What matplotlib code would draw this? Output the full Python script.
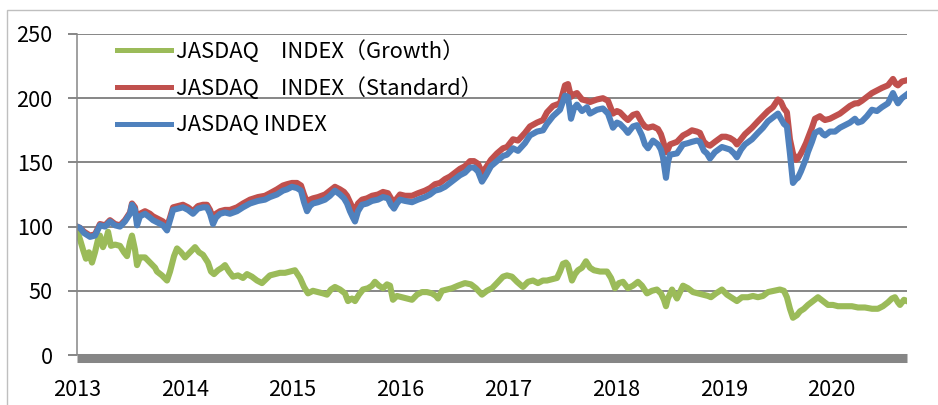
import matplotlib.pyplot as plt
from matplotlib.patches import Rectangle

plt.rcParams['font.family'] = ['Noto Sans CJK JP', 'DejaVu Sans']

# x values are decimal years (year labels sit on Jan 1)
years = [2013, 2014, 2015, 2016, 2017, 2018, 2019, 2020]
y_ticks = [0, 50, 100, 150, 200, 250]

label_growth = 'JASDAQ\u3000INDEX（Growth）'
label_standard = 'JASDAQ\u3000INDEX（Standard）'
label_index = 'JASDAQ INDEX'

# shared dates for JASDAQ INDEX and Standard
index_t = [
    2013.000, 2013.028, 2013.065, 2013.121, 2013.167, 2013.213, 2013.260, 2013.306, 2013.353, 2013.399,
    2013.445, 2013.492, 2013.510, 2013.538, 2013.557, 2013.584, 2013.631, 2013.677, 2013.705, 2013.751,
    2013.798, 2013.835, 2013.863, 2013.891, 2013.937, 2013.983, 2014.030, 2014.076, 2014.122, 2014.169,
    2014.206, 2014.234, 2014.262, 2014.289, 2014.327, 2014.373, 2014.419, 2014.484, 2014.540, 2014.605,
    2014.679, 2014.744, 2014.790, 2014.855, 2014.911, 2014.948, 2014.994, 2015.041, 2015.078, 2015.106,
    2015.134, 2015.161, 2015.189, 2015.236, 2015.301, 2015.347, 2015.393, 2015.440, 2015.477, 2015.505,
    2015.532, 2015.560, 2015.579, 2015.607, 2015.644, 2015.690, 2015.737, 2015.792, 2015.839, 2015.885,
    2015.913, 2015.941, 2015.968, 2015.996, 2016.043, 2016.108, 2016.163, 2016.228, 2016.275, 2016.321,
    2016.367, 2016.414, 2016.460, 2016.506, 2016.553, 2016.599, 2016.646, 2016.683, 2016.720, 2016.757,
    2016.794, 2016.840, 2016.896, 2016.952, 2016.989, 2017.045, 2017.091, 2017.156, 2017.202, 2017.267,
    2017.323, 2017.360, 2017.416, 2017.481, 2017.527, 2017.555, 2017.583, 2017.610, 2017.638, 2017.685,
    2017.731, 2017.759, 2017.824, 2017.879, 2017.926, 2017.972, 2018.009, 2018.037, 2018.083, 2018.111,
    2018.158, 2018.195, 2018.241, 2018.269, 2018.297, 2018.343, 2018.390, 2018.417, 2018.436, 2018.464,
    2018.482, 2018.501, 2018.566, 2018.622, 2018.668, 2018.705, 2018.751, 2018.779, 2018.816, 2018.844,
    2018.872, 2018.918, 2018.983, 2019.020, 2019.058, 2019.095, 2019.122, 2019.160, 2019.197, 2019.262,
    2019.317, 2019.364, 2019.410, 2019.456, 2019.503, 2019.531, 2019.558, 2019.586, 2019.614, 2019.642,
    2019.670, 2019.688, 2019.716, 2019.735, 2019.763, 2019.781, 2019.818, 2019.846, 2019.892, 2019.920,
    2019.939, 2019.985, 2020.032, 2020.078, 2020.124, 2020.171, 2020.217, 2020.245, 2020.282, 2020.328,
    2020.375, 2020.421, 2020.467, 2020.523, 2020.570, 2020.597, 2020.616, 2020.653, 2020.700,
]

index_v = [
    100, 99, 95, 92, 93, 101, 100, 104, 101, 100,
    104, 110, 117, 113, 101, 108, 110, 107, 105, 103,
    101, 97, 105, 113, 114, 115, 113, 110, 114, 115,
    115, 110, 102, 107, 110, 111, 110, 112, 115, 118,
    120, 121, 123, 125, 128, 129, 131, 130, 128, 119,
    112, 116, 118, 119, 121, 124, 128, 125, 122, 118,
    112, 107, 104, 112, 117, 118, 120, 121, 123, 122,
    117, 114, 118, 121, 120, 119, 121, 123, 125, 128,
    129, 131, 134, 137, 140, 142, 146, 146, 143, 135,
    140, 147, 151, 155, 156, 161, 159, 165, 171, 174,
    175, 180, 186, 191, 202, 201, 184, 192, 195, 190,
    193, 188, 191, 192, 188, 177, 181, 180, 176, 173,
    178, 179, 171, 164, 161, 167, 164, 160, 154, 138,
    150, 156, 157, 164, 165, 166, 167, 166, 159, 157,
    153, 158, 162, 161, 160, 157, 154, 160, 164, 168,
    173, 177, 182, 185, 188, 184, 180, 178, 157, 134,
    137, 138, 143, 147, 153, 158, 166, 173, 175, 172,
    171, 174, 174, 177, 179, 181, 184, 181, 182, 186,
    191, 190, 193, 196, 204, 199, 196, 200, 203,
]

standard_v = [
    100, 99, 96, 93, 94, 102, 101, 105, 102, 101,
    105, 111, 118, 115, 104, 110, 112, 110, 108, 106,
    104, 100, 107, 115, 116, 117, 115, 112, 116, 117,
    117, 113, 106, 110, 112, 113, 113, 115, 118, 121,
    123, 124, 126, 129, 132, 133, 134, 134, 132, 125,
    119, 121, 122, 123, 125, 128, 131, 129, 127, 124,
    119, 114, 112, 118, 121, 122, 124, 125, 127, 126,
    122, 119, 122, 125, 124, 124, 126, 128, 130, 133,
    134, 137, 139, 142, 145, 147, 151, 151, 149, 142,
    146, 152, 157, 161, 162, 168, 167, 173, 178, 181,
    183, 189, 194, 196, 210, 211, 201, 203, 204, 199,
    198, 197, 199, 200, 198, 188, 190, 189, 185, 183,
    187, 188, 181, 178, 177, 178, 176, 172, 167, 158,
    160, 164, 166, 171, 173, 175, 174, 173, 166, 164,
    163, 166, 170, 170, 169, 167, 164, 168, 172, 177,
    182, 186, 190, 193, 199, 197, 192, 189, 168, 157,
    152, 153, 157, 160, 165, 169, 177, 184, 186, 184,
    183, 184, 186, 188, 191, 194, 196, 196, 198, 201,
    204, 206, 208, 210, 215, 211, 210, 213, 214,
]

growth_t = [
    2013.000, 2013.028, 2013.056, 2013.083, 2013.111, 2013.139, 2013.167, 2013.195, 2013.213, 2013.241,
    2013.269, 2013.288, 2013.315, 2013.353, 2013.399, 2013.436, 2013.464, 2013.492, 2013.510, 2013.538,
    2013.557, 2013.584, 2013.631, 2013.677, 2013.724, 2013.742, 2013.788, 2013.835, 2013.863, 2013.900,
    2013.928, 2013.965, 2014.002, 2014.048, 2014.095, 2014.132, 2014.169, 2014.215, 2014.243, 2014.271,
    2014.308, 2014.345, 2014.373, 2014.410, 2014.447, 2014.494, 2014.540, 2014.577, 2014.623, 2014.670,
    2014.716, 2014.753, 2014.790, 2014.837, 2014.883, 2014.930, 2014.976, 2015.022, 2015.069, 2015.106,
    2015.143, 2015.189, 2015.236, 2015.282, 2015.319, 2015.356, 2015.393, 2015.440, 2015.486, 2015.514,
    2015.551, 2015.579, 2015.616, 2015.653, 2015.699, 2015.737, 2015.764, 2015.801, 2015.839, 2015.876,
    2015.904, 2015.931, 2015.968, 2016.015, 2016.061, 2016.108, 2016.154, 2016.200, 2016.247, 2016.293,
    2016.330, 2016.349, 2016.386, 2016.432, 2016.479, 2016.534, 2016.599, 2016.655, 2016.701, 2016.757,
    2016.803, 2016.850, 2016.896, 2016.952, 2016.989, 2017.035, 2017.082, 2017.137, 2017.184, 2017.230,
    2017.276, 2017.323, 2017.360, 2017.406, 2017.453, 2017.481, 2017.508, 2017.536, 2017.555, 2017.592,
    2017.620, 2017.648, 2017.685, 2017.722, 2017.759, 2017.796, 2017.852, 2017.917, 2017.954, 2017.991,
    2018.028, 2018.065, 2018.111, 2018.158, 2018.204, 2018.241, 2018.288, 2018.334, 2018.380, 2018.417,
    2018.445, 2018.464, 2018.482, 2018.520, 2018.566, 2018.622, 2018.668, 2018.714, 2018.761, 2018.807,
    2018.853, 2018.881, 2018.928, 2018.983, 2019.030, 2019.085, 2019.122, 2019.169, 2019.224, 2019.271,
    2019.317, 2019.364, 2019.410, 2019.466, 2019.521, 2019.558, 2019.586, 2019.614, 2019.642, 2019.679,
    2019.707, 2019.744, 2019.781, 2019.827, 2019.874, 2019.920, 2019.967, 2020.013, 2020.059, 2020.124,
    2020.189, 2020.245, 2020.310, 2020.375, 2020.430, 2020.477, 2020.523, 2020.560, 2020.588, 2020.616,
    2020.635, 2020.672, 2020.699,
]

growth_v = [
    97, 90, 82, 75, 80, 72, 80, 90, 93, 84,
    90, 96, 85, 86, 85, 80, 77, 88, 93, 82,
    70, 76, 76, 72, 68, 65, 62, 58, 65, 77,
    83, 80, 76, 80, 84, 80, 78, 72, 65, 63,
    66, 68, 70, 65, 61, 62, 60, 63, 61, 58,
    56, 59, 62, 63, 64, 64, 65, 66, 60, 53,
    48, 50, 49, 48, 47, 51, 53, 51, 48, 42,
    44, 42, 47, 51, 52, 54, 57, 54, 52, 55,
    54, 43, 46, 45, 44, 43, 47, 49, 49, 48,
    46, 44, 50, 51, 52, 54, 56, 55, 52, 47,
    50, 52, 56, 61, 62, 61, 57, 53, 57, 58,
    56, 58, 58, 59, 60, 65, 71, 72, 70, 58,
    63, 66, 68, 73, 68, 66, 65, 65, 60, 52,
    56, 57, 52, 54, 57, 54, 48, 50, 51, 48,
    43, 38, 44, 51, 44, 54, 52, 49, 48, 47,
    46, 45, 48, 51, 47, 44, 42, 45, 45, 46,
    45, 46, 49, 50, 51, 50, 45, 36, 29, 31,
    34, 36, 39, 42, 45, 42, 39, 39, 38, 38,
    38, 37, 37, 36, 36, 38, 41, 44, 45, 41,
    39, 43, 42,
]

green = '#9BBB59'
red = '#C0504D'
blue = '#4F81BD'
axis_gray = '#868686'

fig = plt.figure(figsize=(9.38, 4.05), dpi=100)
ax = fig.add_axes([77 / 938, 50 / 405, 830 / 938, 321 / 405])

# light outer chart frame
fig.add_artist(Rectangle((7 / 938, -0.1), 1.2, 395 / 405 + 0.1, transform=fig.transFigure,
                         fill=False, edgecolor='#BFBFBF', linewidth=1.0))

lw = 4.4
ax.plot(growth_t, growth_v, color=green, lw=lw, label=label_growth, solid_joinstyle='round')
ax.plot(index_t, standard_v, color=red, lw=lw, label=label_standard, solid_joinstyle='round')
ax.plot(index_t, index_v, color=blue, lw=lw, label=label_index, solid_joinstyle='round')

ax.set_xlim(2013, 2020.70)
ax.set_ylim(0, 250)
ax.set_yticks(y_ticks)
ax.set_xticks(years)
ax.set_xticklabels([str(y) for y in years])

ax.yaxis.grid(True, color=axis_gray, linewidth=1.4)
ax.set_axisbelow(True)

for s in ['top', 'right']:
    ax.spines[s].set_visible(False)
ax.spines['left'].set_color(axis_gray)
ax.spines['left'].set_linewidth(1.1)
ax.spines['bottom'].set_color(axis_gray)
ax.spines['bottom'].set_linewidth(6.5)
ax.spines['bottom'].set_capstyle('butt')
ax.spines['bottom'].set_position(('outward', 2.5))

ax.tick_params(axis='y', direction='out', length=6.5, width=1.4, color=axis_gray,
               labelsize=15.6, pad=11)
ax.tick_params(axis='x', length=0, labelsize=15.6, pad=15)

leg = ax.legend(loc='upper left', bbox_to_anchor=(0.048, 0.981), frameon=False,
                fontsize=15.8, handlelength=2.45, handletextpad=0.25,
                labelspacing=0.65, borderpad=0, borderaxespad=0)
for h in leg.get_lines():
    h.set_linewidth(3.6)

fig.savefig('out.png', dpi=100)
